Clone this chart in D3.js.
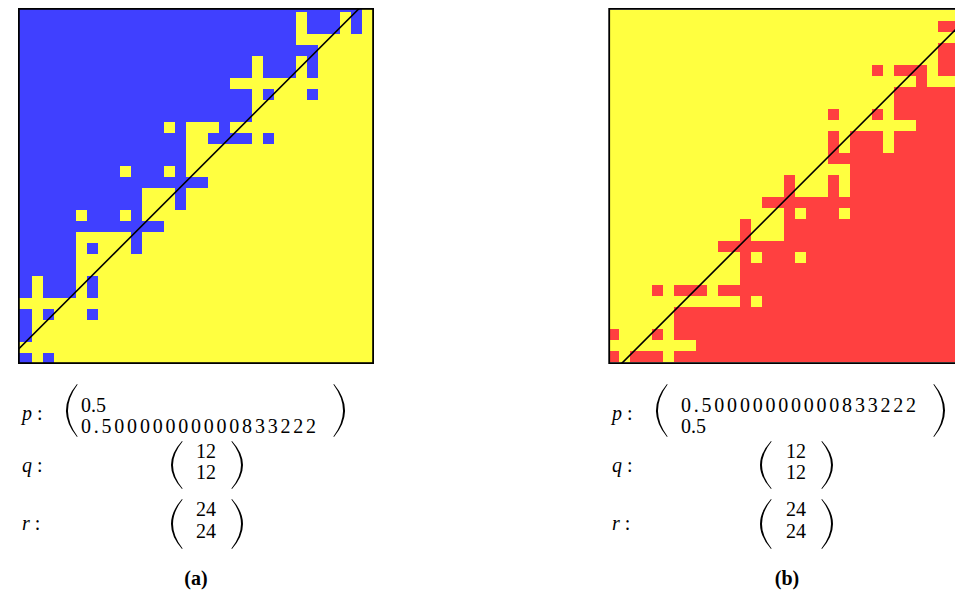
<!DOCTYPE html>
<html>
<head>
<meta charset="utf-8">
<script src="https://cdn.jsdelivr.net/npm/d3@7"></script>
<style>
  body { margin: 0; background: #fff; }
  svg { display: block; }
  text { font-family: "Liberation Serif", "Times New Roman", serif; fill: #000; }
</style>
</head>
<body>
<svg id="chart" width="955" height="611"></svg>
<script>
// cell colours, one string per row from the top, columns in groups of 8
// (a): b = blue, y = yellow.  the first row is the sliver cut by the top of the frame
const mapA = [
  "bbbbbbbb bbbbbbbb bbbbbbbb bbbbbbby",
  "bbbbbbbb bbbbbbbb bbbbbbbb bybbbyby",
  "bbbbbbbb bbbbbbbb bbbbbbbb bybbbyby",
  "bbbbbbbb bbbbbbbb bbbbbbbb byyyyyyy",
  "bbbbbbbb bbbbbbbb bbbbbbbb bbbyyyyy",
  "bbbbbbbb bbbbbbbb bbbbbybb bybyyyyy",
  "bbbbbbbb bbbbbbbb bbbbbybb bybyyyyy",
  "bbbbbbbb bbbbbbbb bbbyyyyy yyyyyyyy",
  "bbbbbbbb bbbbbbbb bbbbbyby yybyyyyy",
  "bbbbbbbb bbbbbbbb bbbbbyyy yyyyyyyy",
  "bbbbbbbb bbbbbbbb bbbbbyyy yyyyyyyy",
  "bbbbbbbb bbbbbyby yybyyyyy yyyyyyyy",
  "bbbbbbbb bbbbbbby ybbbbyby yyyyyyyy",
  "bbbbbbbb bbbbbbby yyyyyyyy yyyyyyyy",
  "bbbbbbbb bbbbbbby yyyyyyyy yyyyyyyy",
  "bbbbbbbb bybbbyby yyyyyyyy yyyyyyyy",
  "bbbbbbbb bbbbbbbb byyyyyyy yyyyyyyy",
  "bbbbbbbb bbbyyyby yyyyyyyy yyyyyyyy",
  "bbbbbbbb bbbyyyby yyyyyyyy yyyyyyyy",
  "bbbbbybb bybyyyyy yyyyyyyy yyyyyyyy",
  "bbbbbbbb bbbbbyyy yyyyyyyy yyyyyyyy",
  "bbbbbyyy yybyyyyy yyyyyyyy yyyyyyyy",
  "bbbbbyby yybyyyyy yyyyyyyy yyyyyyyy",
  "bbbbbyyy yyyyyyyy yyyyyyyy yyyyyyyy",
  "bbbbbyyy yyyyyyyy yyyyyyyy yyyyyyyy",
  "bybbbyby yyyyyyyy yyyyyyyy yyyyyyyy",
  "bybbbyby yyyyyyyy yyyyyyyy yyyyyyyy",
  "yyyyyyyy yyyyyyyy yyyyyyyy yyyyyyyy",
  "bybyyyby yyyyyyyy yyyyyyyy yyyyyyyy",
  "byyyyyyy yyyyyyyy yyyyyyyy yyyyyyyy",
  "byyyyyyy yyyyyyyy yyyyyyyy yyyyyyyy",
  "yyyyyyyy yyyyyyyy yyyyyyyy yyyyyyyy",
  "bybyyyyy yyyyyyyy yyyyyyyy yyyyyyyy"
];
// (b): y = yellow, r = red.  the right edge of this map is cut off by the page
const mapB = [
  "yyyyyyyy yyyyyyyy yyyyyyyy yyyyyyyy",
  "yyyyyyyy yyyyyyyy yyyyyyyy yyyyyyrr",
  "yyyyyyyy yyyyyyyy yyyyyyyy yyyyyyyy",
  "yyyyyyyy yyyyyyyy yyyyyyyy yyyyyyrr",
  "yyyyyyyy yyyyyyyy yyyyyyyy yyyyyyrr",
  "yyyyyyyy yyyyyyyy yyyyyyyy ryrrryrr",
  "yyyyyyyy yyyyyyyy yyyyyyyy yyyyryyy",
  "yyyyyyyy yyyyyyyy yyyyyyyy yyrrrrrr",
  "yyyyyyyy yyyyyyyy yyyyyyyy yyrrrrrr",
  "yyyyyyyy yyyyyyyy yyyyryyy ryrrrrrr",
  "yyyyyyyy yyyyyyyy yyyyyyyy yyyyrrrr",
  "yyyyyyyy yyyyyyyy yyyyryrr ryrrrrrr",
  "yyyyyyyy yyyyyyyy yyyyryrr ryrrrrrr",
  "yyyyyyyy yyyyyyyy yyyyrrrr rrrrrrrr",
  "yyyyyyyy yyyyyyyy yyyyyyrr rrrrrrrr",
  "yyyyyyyy yyyyyyyy ryyyryrr rrrrrrrr",
  "yyyyyyyy yyyyyyyy ryyyryrr rrrrrrrr",
  "yyyyyyyy yyyyyyrr rrrrrrrr rrrrrrrr",
  "yyyyyyyy yyyyyyyy ryrrryrr rrrrrrrr",
  "yyyyyyyy yyyyryyy rrrrrrrr rrrrrrrr",
  "yyyyyyyy yyyyryyy rrrrrrrr rrrrrrrr",
  "yyyyyyyy yyrrrrrr rrrrrrrr rrrrrrrr",
  "yyyyyyyy yyyyryrr ryrrrrrr rrrrrrrr",
  "yyyyyyyy yyyyrrrr rrrrrrrr rrrrrrrr",
  "yyyyyyyy yyyyrrrr rrrrrrrr rrrrrrrr",
  "yyyyryrr ryrrrrrr rrrrrrrr rrrrrrrr",
  "yyyyyyyy yyyyryrr rrrrrrrr rrrrrrrr",
  "yyyyyyrr rrrrrrrr rrrrrrrr rrrrrrrr",
  "yyyyyyrr rrrrrrrr rrrrrrrr rrrrrrrr",
  "ryyyryrr rrrrrrrr rrrrrrrr rrrrrrrr",
  "yyyyyyyy rrrrrrrr rrrrrrrr rrrrrrrr",
  "ryrrryrr rrrrrrrr rrrrrrrr rrrrrrrr"
];
// black diagonal, as (column, row) in cell units
const diagA = [[-1, 31.45], [31.45, -1]];
const diagB = [[0, 33.4], [34, -0.6]];

const pA = ["0.5", "0.50000000000833222"];
const pB = ["0.50000000000833222", "0.5"];
const qVec = ["12", "12"];
const rVec = ["24", "24"];
const captions = ["(a)", "(b)"];

const colours = { b: "#4040ff", y: "#ffff40", r: "#ff4040" };

const svg = d3.select("#chart");
const cell = 11, n = 32;
const longWidth = 235;   // the long entry is set wider than the plain font gives

const panels = [
  { id: "a", grid: mapA, firstRow: -1, gx: 20.7, gy: 12, fx: 18.9, diag: diagA,
    p: pA, pText: 81, pParen: [66, 345], vMid: 206, vParen: [171, 243], caption: captions[0], cx: 196, labelX: 22 },
  { id: "b", grid: mapB, firstRow: 0, gx: 608.2, gy: 9.5, fx: 609.2, diag: diagB,
    p: pB, pText: 681, pParen: [656, 945], vMid: 796, vParen: [760, 833], caption: captions[1], cx: 787, labelX: 612 }
];

function paren(x, y1, y2, dir) {
  // dir = 1 for "(", -1 for ")"; x is the outermost point of the bulge
  const tip = x + dir * 11, mid = (y1 + y2) / 2, c = x - dir * 11;
  return `M${tip},${y1} Q${c},${mid} ${tip},${y2} L${tip + dir * 0.6},${y2 - 0.5} Q${c + dir * 3.4},${mid} ${tip + dir * 0.6},${y1 + 0.5} Z`;
}

function vector(g, lines, xText, anchor, parens, yTop, yBot, baselines) {
  g.append("path").attr("d", paren(parens[0], yTop, yBot, 1));
  g.append("path").attr("d", paren(parens[1], yTop, yBot, -1));
  g.selectAll(null).data(lines).join("text")
    .attr("x", xText).attr("y", (d, i) => baselines[i])
    .attr("text-anchor", anchor)
    .attr("font-size", 20)
    .each(function(d) {
      if (d.length > 6) d3.select(this).attr("textLength", longWidth).attr("lengthAdjust", "spacing");
    })
    .text(d => d);
}

function label(g, x, y, sym) {
  const t = g.append("text").attr("x", x).attr("y", y).attr("font-size", 20);
  t.append("tspan").attr("font-style", "italic").text(sym);
  t.append("tspan").text(" :");
}

panels.forEach(pn => {
  const xs = d3.scaleLinear().domain([0, n]).range([pn.gx, pn.gx + n * cell]);
  const ys = d3.scaleLinear().domain([0, n]).range([pn.gy, pn.gy + n * cell]);

  const cells = [];
  pn.grid.forEach((row, i) => {
    row.replace(/ /g, "").split("").forEach((v, c) => cells.push({ c, r: i + pn.firstRow, v }));
  });

  const clipId = "clip-" + pn.id;
  svg.append("clipPath").attr("id", clipId)
    .append("rect").attr("x", pn.fx).attr("y", 8.9).attr("width", 354.2).attr("height", 354.2);

  const g = svg.append("g").attr("clip-path", `url(#${clipId})`);
  g.selectAll("rect").data(cells).join("rect")
    .attr("x", d => d.c === 0 ? xs(0) - 3 : xs(d.c))
    .attr("y", d => ys(d.r))
    .attr("width", d => (d.c === 0 ? 3 : 0) + cell)
    .attr("height", cell)
    .attr("shape-rendering", "crispEdges")
    .attr("fill", d => colours[d.v]);

  g.append("path")
    .attr("d", d3.line().x(d => xs(d[0])).y(d => ys(d[1]))(pn.diag))
    .attr("stroke", "#000").attr("stroke-width", 1.6).attr("fill", "none");

  svg.append("rect")
    .attr("x", pn.fx).attr("y", 8.9).attr("width", 354.2).attr("height", 354.2)
    .attr("fill", "none").attr("stroke", "#000").attr("stroke-width", 1.8);

  const t = svg.append("g");
  label(t, pn.labelX, 420, "p");
  label(t, pn.labelX, 472, "q");
  label(t, pn.labelX, 530, "r");
  vector(t, pn.p, pn.pText, "start", pn.pParen, 384, 437, [412, 433]);
  vector(t, qVec, pn.vMid, "middle", pn.vParen, 441, 489, [458, 479]);
  vector(t, rVec, pn.vMid, "middle", pn.vParen, 499, 549, [516, 538]);

  t.append("text").attr("x", pn.cx).attr("y", 585)
    .attr("text-anchor", "middle").attr("font-size", 20).attr("font-weight", "bold")
    .text(pn.caption);
});
</script>
</body>
</html>
